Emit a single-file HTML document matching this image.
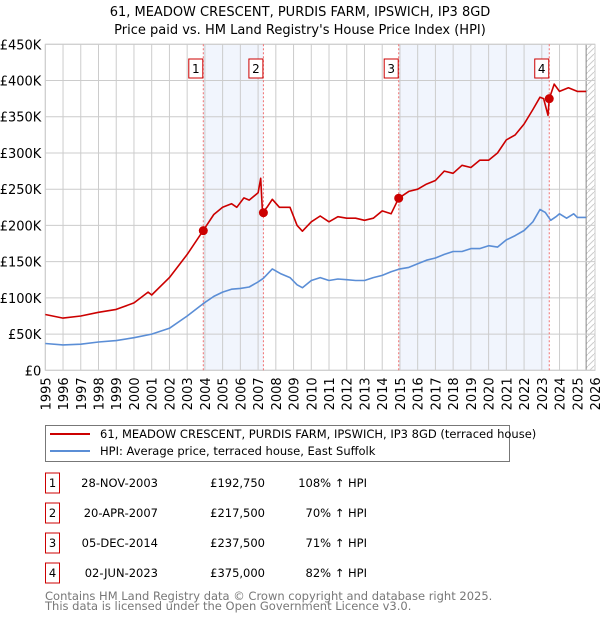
<!DOCTYPE html>
<html><head><meta charset="utf-8"><style>
body{margin:0;background:#fff;width:600px;height:620px;overflow:hidden;font-family:"DejaVu Sans","Liberation Sans",sans-serif}
svg{position:absolute;left:0;top:0}
text{font-family:"DejaVu Sans","Liberation Sans",sans-serif}
</style></head><body>
<svg id="c" width="600" height="620"></svg>
<script>
const yTicks=[0,50,100,150,200,250,300,350,400,450];
const xYears=[1995,1996,1997,1998,1999,2000,2001,2002,2003,2004,2005,2006,2007,2008,2009,2010,2011,2012,2013,2014,2015,2016,2017,2018,2019,2020,2021,2022,2023,2024,2025,2026];
const hpiT=[1995,1996,1997,1998,1999,2000,2001,2002,2003,2003.9,2004.5,2005,2005.5,2006,2006.5,2007,2007.3,2007.8,2008.3,2008.8,2009.2,2009.5,2010,2010.5,2011,2011.5,2012,2012.5,2013,2013.5,2014,2014.5,2015,2015.5,2016,2016.5,2017,2017.5,2018,2018.5,2019,2019.5,2020,2020.5,2021,2021.5,2022,2022.5,2022.9,2023.2,2023.5,2023.8,2024,2024.4,2024.8,2025,2025.5];
const hpiV=[37,35,36,39,41,45,50,58,75,92,102,108,112,113,115,122,127,140,133,128,118,114,124,128,124,126,125,124,124,128,131,136,140,142,147,152,155,160,164,164,168,168,172,170,180,186,193,205,222,218,207,212,216,210,216,211,211];
const priceT=[1995,1996,1997,1998,1999,2000,2000.8,2001,2002,2003,2003.9,2004.5,2005,2005.5,2005.8,2006.2,2006.5,2007,2007.15,2007.25,2007.5,2007.8,2008.2,2008.8,2009.2,2009.5,2010,2010.5,2011,2011.5,2012,2012.5,2013,2013.5,2014,2014.5,2014.93,2015.5,2016,2016.5,2017,2017.5,2018,2018.5,2019,2019.5,2020,2020.5,2021,2021.5,2022,2022.5,2022.9,2023.1,2023.35,2023.42,2023.7,2024,2024.5,2025,2025.5];
const priceV=[77,72,75,80,84,93,108,104,128,160,192.75,215,225,230,225,238,235,245,265,217.5,225,236,225,225,200,192,205,213,205,212,210,210,207,210,220,216,237.5,247,250,257,262,275,272,283,280,290,290,300,318,325,340,360,377,375,352,375,395,385,390,385,385];
const saleT=[2003.91,2007.3,2014.93,2023.42];
const saleV=[192.75,217.5,237.5,375];
const saleLabels=['1','2','3','4'];
const saleDates=['28-NOV-2003','20-APR-2007','05-DEC-2014','02-JUN-2023'];
const salePrices=['£192,750','£217,500','£237,500','£375,000'];
const salePct=['108% ↑ HPI','70% ↑ HPI','71% ↑ HPI','82% ↑ HPI'];

const L=45.3,R=595,T=44.3,B=370.3;
const X=t=>L+(t-1995)*(R-L)/31;
const Y=v=>B-v*(B-T)/450;
const svg=document.getElementById('c');const NS='http://www.w3.org/2000/svg';
function mk(tag,at,txt){const e=document.createElementNS(NS,tag);for(const k in at)e.setAttribute(k,at[k]);if(txt!==undefined)e.textContent=txt;svg.appendChild(e);return e;}

let e;
e=mk('text',{x:300,y:16,'text-anchor':'middle','font-size':13},'61, MEADOW CRESCENT, PURDIS FARM, IPSWICH, IP3 8GD');


e=mk('text',{x:300,y:34,'text-anchor':'middle','font-size':13},"Price paid vs. HM Land Registry's House Price Index (HPI)");



// shaded regions
[[0,1],[2,3]].forEach(p=>{
 e=mk('rect',{x:X(saleT[p[0]]),y:T,width:X(saleT[p[1]])-X(saleT[p[0]]),height:B-T,fill:'#eef3fc',opacity:0.8});
 
 
});
// hatch
const defs=mk('defs',{});
defs.innerHTML='<pattern id="h" width="6" height="6" patternUnits="userSpaceOnUse"><path d="M0,6 L6,0" stroke="#ccc" stroke-width="1"/></pattern>';
e=mk('rect',{x:X(2025.5),y:T,width:R-X(2025.5),height:B-T,fill:'url(#h)'});


mk('line',{x1:X(2025.5),x2:X(2025.5),y1:T,y2:B,stroke:'#888','stroke-width':1});

// grid
yTicks.forEach(v=>{
 e=mk('line',{x1:L,x2:R,y1:Y(v),y2:Y(v),stroke:'#ccc','stroke-width':1});
 
 
 e=mk('text',{x:L-4,y:Y(v)+5,'text-anchor':'end','font-size':13},'£'+(v?v+'K':'0'));
 
 
});
xYears.forEach(yr=>{
 e=mk('line',{x1:X(yr),x2:X(yr),y1:T,y2:B,stroke:'#ccc','stroke-width':1});
 
 
 const tx=X(yr)+5,ty=B+7;
 e=mk('text',{x:tx,y:ty,'text-anchor':'end','font-size':13,transform:`rotate(-90 ${tx} ${ty})`},String(yr));
 
 
});
mk('rect',{x:L,y:T,width:R-L,height:B-T,fill:'none',stroke:'#ccc'});

// sale vlines & markers
saleT.forEach((t,i)=>{
 e=mk('line',{x1:X(t),x2:X(t),y1:T,y2:B,stroke:'#f07070','stroke-width':1,'stroke-dasharray':'2,2'});
 
 
 e=mk('rect',{x:X(t)-14.5,y:59,width:14,height:19,fill:'#fff',stroke:'#cc0000'});
 
 
 e=mk('text',{x:X(t)-7.5,y:73,'text-anchor':'middle','font-size':12},saleLabels[i]);
 
 
});

function pts(ts,vs){return ts.map((t,i)=>X(t).toFixed(1)+','+Y(vs[i]).toFixed(1)).join(' ');}
e=mk('polyline',{points:pts(hpiT,hpiV),fill:'none',stroke:'#5b8ed6','stroke-width':1.6,'stroke-linejoin':'round'});


e=mk('polyline',{points:pts(priceT,priceV),fill:'none',stroke:'#cc0000','stroke-width':1.6,'stroke-linejoin':'round'});


saleT.forEach((t,i)=>{
 e=mk('circle',{cx:X(t),cy:Y(saleV[i]),r:4.5,fill:'#cc0000'});
 
 
});

// legend
e=mk('rect',{x:45.5,y:425.5,width:464,height:36,fill:'#fff',stroke:'#777'});


mk('line',{x1:50,x2:90,y1:434,y2:434,stroke:'#cc0000','stroke-width':2});
e=mk('text',{x:100,y:438,'font-size':11.5},'61, MEADOW CRESCENT, PURDIS FARM, IPSWICH, IP3 8GD (terraced house)');


mk('line',{x1:50,x2:90,y1:451,y2:451,stroke:'#5b8ed6','stroke-width':2});
e=mk('text',{x:100,y:455,'font-size':11.5},'HPI: Average price, terraced house, East Suffolk');



// table
saleT.forEach((t,i)=>{
 const cy=483+i*30;
 e=mk('rect',{x:45.5,y:cy-10,width:14,height:20,fill:'#fff',stroke:'#cc0000'});
 
 
 mk('text',{x:52.5,y:cy+4,'text-anchor':'middle','font-size':11.5},saleLabels[i]);
 e=mk('text',{x:158,y:cy+4,'text-anchor':'end','font-size':11.5},saleDates[i]);
 
 
 e=mk('text',{x:265,y:cy+4,'text-anchor':'end','font-size':11.5},salePrices[i]);
 
 
 e=mk('text',{x:367,y:cy+4,'text-anchor':'end','font-size':11.5},salePct[i]);
 
 
});
e=mk('text',{x:45,y:600,'font-size':11.5,fill:'#777'},'Contains HM Land Registry data © Crown copyright and database right 2025.');


e=mk('text',{x:45,y:610,'font-size':11.5,fill:'#777'},'This data is licensed under the Open Government Licence v3.0.');


</script>
</body></html>
